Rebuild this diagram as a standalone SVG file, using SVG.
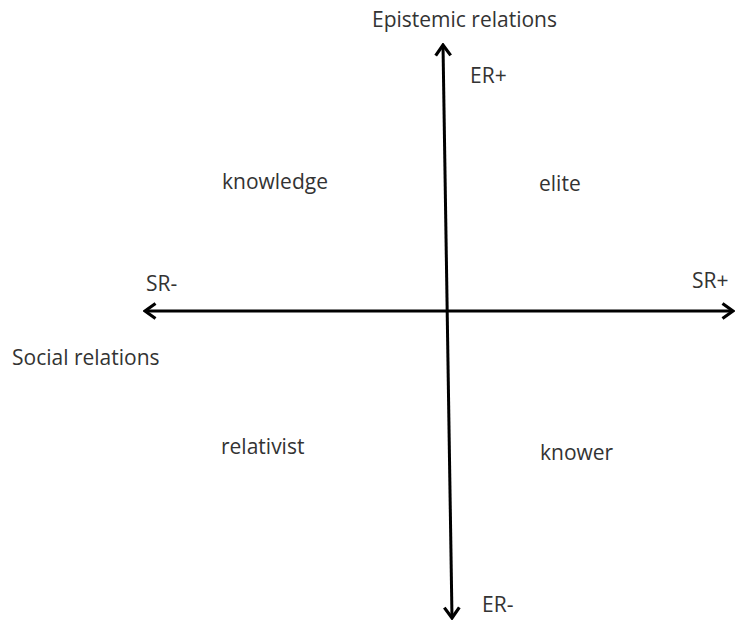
<svg xmlns="http://www.w3.org/2000/svg" width="736" height="621" viewBox="0 0 736 621">
  <style>
    .lbl { font-family: "Open Sans", "Noto Sans", sans-serif; font-size: 21px; fill: #333; }
    .axis { stroke: #000; stroke-width: 3; fill: none; }
  </style>
  <defs>
    <marker id="chev" viewBox="0 0 14 18" refX="12" refY="9" markerWidth="14" markerHeight="18" markerUnits="userSpaceOnUse" orient="auto-start-reverse">
      <path d="M1.5,1.5 L12,9 L1.5,16.5" fill="none" stroke="#000" stroke-width="3.2" stroke-linejoin="miter"/>
    </marker>
  </defs>
  <rect width="736" height="621" fill="#fff"/>
  <g id="connectors">
    <line class="axis" x1="145" y1="311" x2="733" y2="311" marker-start="url(#chev)" marker-end="url(#chev)"/>
    <line class="axis" x1="443" y1="45" x2="452" y2="618" marker-start="url(#chev)" marker-end="url(#chev)"/>
  </g>
  <g id="axis-titles">
    <text class="lbl" x="372" y="27">Epistemic relations</text>
    <text class="lbl" x="12" y="365">Social relations</text>
  </g>
  <g id="poles">
    <text class="lbl" x="470" y="83">ER+</text>
    <text class="lbl" x="482" y="612">ER-</text>
    <text class="lbl" x="146" y="291">SR-</text>
    <text class="lbl" x="692" y="288">SR+</text>
  </g>
  <g id="knowledge"><text class="lbl" x="222" y="189">knowledge</text></g>
  <g id="elite"><text class="lbl" x="539" y="191">elite</text></g>
  <g id="relativist"><text class="lbl" x="221" y="454">relativist</text></g>
  <g id="knower"><text class="lbl" x="540" y="460">knower</text></g>
</svg>
